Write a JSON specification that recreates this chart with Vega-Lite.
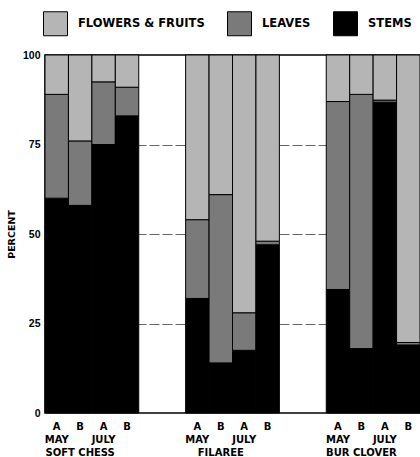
{
  "$schema": "https://vega.github.io/schema/vega-lite/v6.json",
  "width": 375,
  "height": 358,
  "autosize": "none",
  "padding": {"left": 45, "top": 55, "right": 0, "bottom": 44},
  "background": "white",
  "config": {
    "view": {"stroke": "black", "strokeWidth": 1.5},
    "font": "DejaVu Sans",
    "axis": {"labelFont": "DejaVu Sans", "labelFontWeight": "bold", "labelColor": "black", "titleColor": "black"}
  },
  "data": {
    "values": [
      {"species": "SOFT CHESS", "month": "MAY", "plot": "A", "part": "STEMS", "percent": 60},
      {"species": "SOFT CHESS", "month": "MAY", "plot": "A", "part": "LEAVES", "percent": 29},
      {"species": "SOFT CHESS", "month": "MAY", "plot": "A", "part": "FLOWERS & FRUITS", "percent": 11},
      {"species": "SOFT CHESS", "month": "MAY", "plot": "B", "part": "STEMS", "percent": 58},
      {"species": "SOFT CHESS", "month": "MAY", "plot": "B", "part": "LEAVES", "percent": 18},
      {"species": "SOFT CHESS", "month": "MAY", "plot": "B", "part": "FLOWERS & FRUITS", "percent": 24},
      {"species": "SOFT CHESS", "month": "JULY", "plot": "A", "part": "STEMS", "percent": 75},
      {"species": "SOFT CHESS", "month": "JULY", "plot": "A", "part": "LEAVES", "percent": 17.5},
      {"species": "SOFT CHESS", "month": "JULY", "plot": "A", "part": "FLOWERS & FRUITS", "percent": 7.5},
      {"species": "SOFT CHESS", "month": "JULY", "plot": "B", "part": "STEMS", "percent": 83},
      {"species": "SOFT CHESS", "month": "JULY", "plot": "B", "part": "LEAVES", "percent": 8},
      {"species": "SOFT CHESS", "month": "JULY", "plot": "B", "part": "FLOWERS & FRUITS", "percent": 9},
      {"species": "FILAREE", "month": "MAY", "plot": "A", "part": "STEMS", "percent": 32},
      {"species": "FILAREE", "month": "MAY", "plot": "A", "part": "LEAVES", "percent": 22},
      {"species": "FILAREE", "month": "MAY", "plot": "A", "part": "FLOWERS & FRUITS", "percent": 46},
      {"species": "FILAREE", "month": "MAY", "plot": "B", "part": "STEMS", "percent": 14},
      {"species": "FILAREE", "month": "MAY", "plot": "B", "part": "LEAVES", "percent": 47},
      {"species": "FILAREE", "month": "MAY", "plot": "B", "part": "FLOWERS & FRUITS", "percent": 39},
      {"species": "FILAREE", "month": "JULY", "plot": "A", "part": "STEMS", "percent": 17.5},
      {"species": "FILAREE", "month": "JULY", "plot": "A", "part": "LEAVES", "percent": 10.5},
      {"species": "FILAREE", "month": "JULY", "plot": "A", "part": "FLOWERS & FRUITS", "percent": 72},
      {"species": "FILAREE", "month": "JULY", "plot": "B", "part": "STEMS", "percent": 47},
      {"species": "FILAREE", "month": "JULY", "plot": "B", "part": "LEAVES", "percent": 1},
      {"species": "FILAREE", "month": "JULY", "plot": "B", "part": "FLOWERS & FRUITS", "percent": 52},
      {"species": "BUR CLOVER", "month": "MAY", "plot": "A", "part": "STEMS", "percent": 34.5},
      {"species": "BUR CLOVER", "month": "MAY", "plot": "A", "part": "LEAVES", "percent": 52.5},
      {"species": "BUR CLOVER", "month": "MAY", "plot": "A", "part": "FLOWERS & FRUITS", "percent": 13},
      {"species": "BUR CLOVER", "month": "MAY", "plot": "B", "part": "STEMS", "percent": 18},
      {"species": "BUR CLOVER", "month": "MAY", "plot": "B", "part": "LEAVES", "percent": 71},
      {"species": "BUR CLOVER", "month": "MAY", "plot": "B", "part": "FLOWERS & FRUITS", "percent": 11},
      {"species": "BUR CLOVER", "month": "JULY", "plot": "A", "part": "STEMS", "percent": 86.8},
      {"species": "BUR CLOVER", "month": "JULY", "plot": "A", "part": "LEAVES", "percent": 0.6},
      {"species": "BUR CLOVER", "month": "JULY", "plot": "A", "part": "FLOWERS & FRUITS", "percent": 12.6},
      {"species": "BUR CLOVER", "month": "JULY", "plot": "B", "part": "STEMS", "percent": 19},
      {"species": "BUR CLOVER", "month": "JULY", "plot": "B", "part": "LEAVES", "percent": 0.7},
      {"species": "BUR CLOVER", "month": "JULY", "plot": "B", "part": "FLOWERS & FRUITS", "percent": 80.3}
    ]
  },
  "transform": [
    {"calculate": "datum.species + '|' + datum.month + '|' + datum.plot", "as": "key"}
  ],
  "resolve": {"axis": {"x": "independent"}},
  "layer": [
    {
      "mark": {"type": "bar", "stroke": "black", "strokeWidth": 1},
      "encoding": {
        "x": {
          "field": "key", "type": "nominal",
          "scale": {"domain": ["SOFT CHESS|MAY|A", "SOFT CHESS|MAY|B", "SOFT CHESS|JULY|A", "SOFT CHESS|JULY|B", "gap1", "gap2", "FILAREE|MAY|A", "FILAREE|MAY|B", "FILAREE|JULY|A", "FILAREE|JULY|B", "gap3", "gap4", "BUR CLOVER|MAY|A", "BUR CLOVER|MAY|B", "BUR CLOVER|JULY|A", "BUR CLOVER|JULY|B"], "paddingInner": 0, "paddingOuter": 0},
          "axis": {"orient": "bottom", "title": null, "domain": false, "ticks": false, "tickSize": 0, "labelPadding": 8, "labelAngle": 0, "labelFontSize": 10, "labelOverlap": false,
                   "labelExpr": "indexof(datum.value, '|') > 0 ? split(datum.value, '|')[2] : ''"}
        },
        "y": {
          "field": "percent", "type": "quantitative",
          "scale": {"domain": [0, 100], "nice": false},
          "axis": {"values": [0, 25, 50, 75, 100], "title": "PERCENT", "titleFontSize": 9.5, "titleFontWeight": "bold", "titlePadding": 6,
                   "domain": false, "ticks": false, "tickSize": 0, "labelPadding": 5, "labelFontSize": 10.5, "labelFont": "Liberation Sans",
                   "grid": true, "gridColor": "#666", "gridDash": [10, 3], "gridWidth": 1,
                   "gridOpacity": {"condition": {"test": "datum.value === 0 || datum.value === 100", "value": 0}, "value": 1}}
        },
        "color": {
          "field": "part", "type": "nominal",
          "scale": {"domain": ["FLOWERS & FRUITS", "LEAVES", "STEMS"], "range": ["#b5b5b5", "#7a7a7a", "#000000"]},
          "legend": {"title": null, "orient": "none", "legendX": -2, "legendY": -44, "direction": "horizontal",
                     "symbolType": "square", "symbolSize": 576, "symbolStrokeColor": "black", "symbolStrokeWidth": 1, "symbolOpacity": 1,
                     "labelFont": "DejaVu Sans", "labelFontSize": 11.5, "labelFontWeight": "bold", "labelColor": "black",
                     "labelOffset": 10, "columnPadding": 20, "labelLimit": 300}
        },
        "order": {"field": "part", "sort": "descending"}
      }
    },
    {
      "mark": {"type": "point", "opacity": 0},
      "encoding": {
        "x": {
          "field": "key", "type": "nominal",
          "scale": {"domain": ["SOFT CHESS|MAY|A", "SOFT CHESS|MAY|B", "SOFT CHESS|JULY|A", "SOFT CHESS|JULY|B", "gap1", "gap2", "FILAREE|MAY|A", "FILAREE|MAY|B", "FILAREE|JULY|A", "FILAREE|JULY|B", "gap3", "gap4", "BUR CLOVER|MAY|A", "BUR CLOVER|MAY|B", "BUR CLOVER|JULY|A", "BUR CLOVER|JULY|B"], "paddingInner": 0, "paddingOuter": 0},
          "axis": {"orient": "bottom", "offset": 13, "title": null, "domain": false, "ticks": false, "tickSize": 0, "labelPadding": 8, "labelAngle": 0, "labelFontSize": 10, "labelOverlap": false, "labelDx": 3,
                   "labelExpr": "indexof(datum.value, '|') > 0 && split(datum.value, '|')[2] == 'A' ? split(datum.value, '|')[1] : ''"}
        }
      }
    },
    {
      "mark": {"type": "point", "opacity": 0},
      "encoding": {
        "x": {
          "field": "key", "type": "nominal",
          "scale": {"domain": ["SOFT CHESS|MAY|A", "SOFT CHESS|MAY|B", "SOFT CHESS|JULY|A", "SOFT CHESS|JULY|B", "gap1", "gap2", "FILAREE|MAY|A", "FILAREE|MAY|B", "FILAREE|JULY|A", "FILAREE|JULY|B", "gap3", "gap4", "BUR CLOVER|MAY|A", "BUR CLOVER|MAY|B", "BUR CLOVER|JULY|A", "BUR CLOVER|JULY|B"], "paddingInner": 0, "paddingOuter": 0},
          "axis": {"orient": "bottom", "offset": 26, "title": null, "domain": false, "ticks": false, "tickSize": 0, "labelPadding": 8, "labelAngle": 0, "labelFontSize": 10, "labelOverlap": false, "labelDx": 9,
                   "labelExpr": "indexof(datum.value, '|') > 0 && split(datum.value, '|')[1] == 'MAY' && split(datum.value, '|')[2] == 'B' ? split(datum.value, '|')[0] : ''"}
        }
      }
    }
  ]
}
